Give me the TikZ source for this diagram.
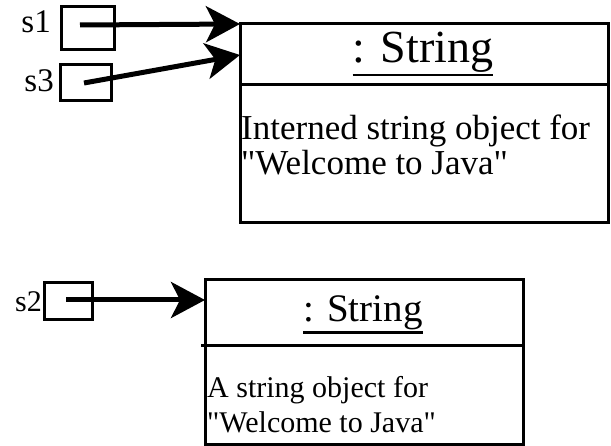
\documentclass[tikz,border=0pt]{standalone}
\usepackage{fontspec}
\setmainfont{Liberation Serif}
\newfontfamily\plainserif{Liberation Serif}
\usetikzlibrary{arrows.meta}
\begin{document}
\begin{tikzpicture}[x=1pt,y=-1pt,
  objbox/.style={draw,line width=3pt,inner sep=0pt,anchor=north west},
  refbox/.style={draw,line width=2.8pt,inner sep=0pt,anchor=north west},
  divider/.style={line width=3pt},
  arr/.style={line width=5pt,-{Stealth[length=34pt 0,width=36pt 0,inset=9pt 0]}},
  ttl/.style={inner sep=0pt,anchor=base},
  body/.style={inner sep=0pt,anchor=base west},
  lbl/.style={inner sep=0pt,anchor=base east}]
\useasboundingbox (0,0) rectangle (611,446);

% top object
\node[objbox,minimum width=368pt,minimum height=199pt] (obj1) at (239,22) {};
\draw[divider] (239,85) -- (607,85);
\node[ttl,font=\plainserif\fontsize{46}{50}\selectfont] (t1) at (423,63) {: String};
\draw[line width=2.6pt] ([yshift=-2pt]t1.south west) -- ([yshift=-2pt]t1.south east);
\node[body,font=\plainserif\fontsize{35}{40}\selectfont] (b1a) at (241,140) {Interned string object for};
\node[body,font=\plainserif\fontsize{35}{40}\selectfont] (b1b) at (241,175) {"Welcome to Java"};

% bottom object
\node[objbox,minimum width=318pt,minimum height=165pt] (obj2) at (204,278) {};
\draw[divider] (201,346) -- (522,346);
\node[ttl,font=\plainserif\fontsize{39}{44}\selectfont] (t2) at (363,322) {: String};
\draw[line width=2.4pt] ([yshift=-2pt]t2.south west) -- ([yshift=-2pt]t2.south east);
\node[body,font=\plainserif\fontsize{30}{34}\selectfont] (b2a) at (207,398) {A string object for};
\node[body,font=\plainserif\fontsize{30}{34}\selectfont] (b2b) at (207,432) {"Welcome to Java"};

% reference variables
\node[refbox,minimum width=53pt,minimum height=43pt] (r1) at (60,5) {};
\node[refbox,minimum width=51pt,minimum height=36pt] (r3) at (59,63) {};
\node[refbox,minimum width=48pt,minimum height=37pt] (r2) at (43,281) {};
\node[lbl,font=\plainserif\fontsize{33}{36}\selectfont] (l1) at (51,33) {s1};
\node[lbl,font=\plainserif\fontsize{33}{36}\selectfont] (l3) at (54,92) {s3};
\node[lbl,font=\plainserif\fontsize{30}{34}\selectfont] (l2) at (42,312) {s2};

% arrows
\coordinate (s1) at (80,25);
\coordinate (s3) at (84,83);
\coordinate (s2) at (66,300);
\coordinate (e1) at (240,24);
\coordinate (e3) at (240,55);
\coordinate (e2) at (205,300);
\draw[arr] (s1) -- (e1);
\draw[arr] (s3) -- (e3);
\draw[arr] (s2) -- (e2);
\end{tikzpicture}
\end{document}
